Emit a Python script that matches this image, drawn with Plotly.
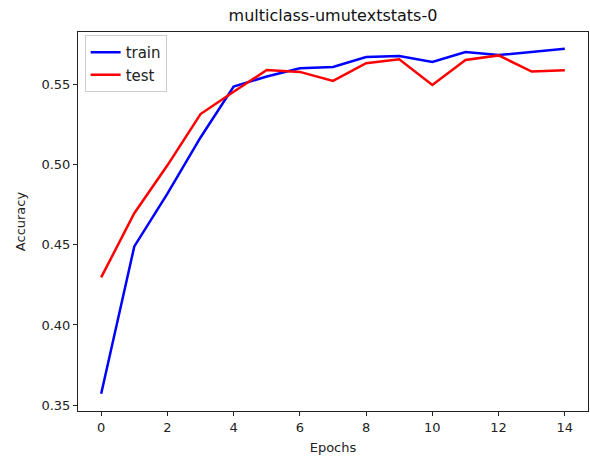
import plotly.graph_objects as go

epochs = list(range(15))
train_acc = [0.357, 0.449, 0.482, 0.517, 0.5488, 0.555, 0.5602, 0.561, 0.5672, 0.5678,
             0.5641, 0.5703, 0.5684, 0.5705, 0.5723]
test_acc = [0.4297, 0.4697, 0.4996, 0.5316, 0.5455, 0.5591, 0.5579, 0.5523, 0.5633, 0.5658,
            0.5498, 0.5653, 0.5682, 0.5581, 0.5589]
x_ticks = [0, 2, 4, 6, 8, 10, 12, 14]
y_ticks = [0.35, 0.40, 0.45, 0.50, 0.55]

fig = go.Figure()
fig.add_trace(go.Scatter(x=epochs, y=train_acc, mode="lines", name="train",
                         line=dict(color="blue", width=2.5)))
fig.add_trace(go.Scatter(x=epochs, y=test_acc, mode="lines", name="test",
                         line=dict(color="red", width=2.5)))

font = "DejaVu Sans"
axis_common = dict(showgrid=False, zeroline=False, showline=True, linecolor="#222",
                   linewidth=1, mirror=True, ticks="outside", ticklen=4, tickcolor="#222",
                   tickfont=dict(family=font, size=13, color="#222"))

fig.update_layout(
    width=590, height=458,
    margin=dict(l=78, r=2, t=32, b=47),
    paper_bgcolor="white", plot_bgcolor="white",
    title=dict(text="multiclass-umutextstats-0", x=(78 + 588) / 2 / 590, xanchor="center",
               y=1 - 15 / 458, yanchor="middle",
               font=dict(family=font, size=16, color="#111")),
    xaxis=dict(range=[-0.7, 14.7], tickvals=x_ticks,
               title=dict(text="Epochs", font=dict(family=font, size=13, color="#222"), standoff=9),
               **axis_common),
    yaxis=dict(range=[0.3463, 0.5828], tickvals=y_ticks, ticktext=[f"{v:.2f}" for v in y_ticks],
               title=dict(text="Accuracy", font=dict(family=font, size=13, color="#222"), standoff=12),
               **axis_common),
    legend=dict(x=0.013, y=0.992, xanchor="left", yanchor="top",
                bgcolor="rgba(255,255,255,0.8)", bordercolor="#ccc", borderwidth=1,
                font=dict(family=font, size=15, color="#222"), tracegroupgap=2),
    showlegend=True,
)

fig.write_html("out.html")
